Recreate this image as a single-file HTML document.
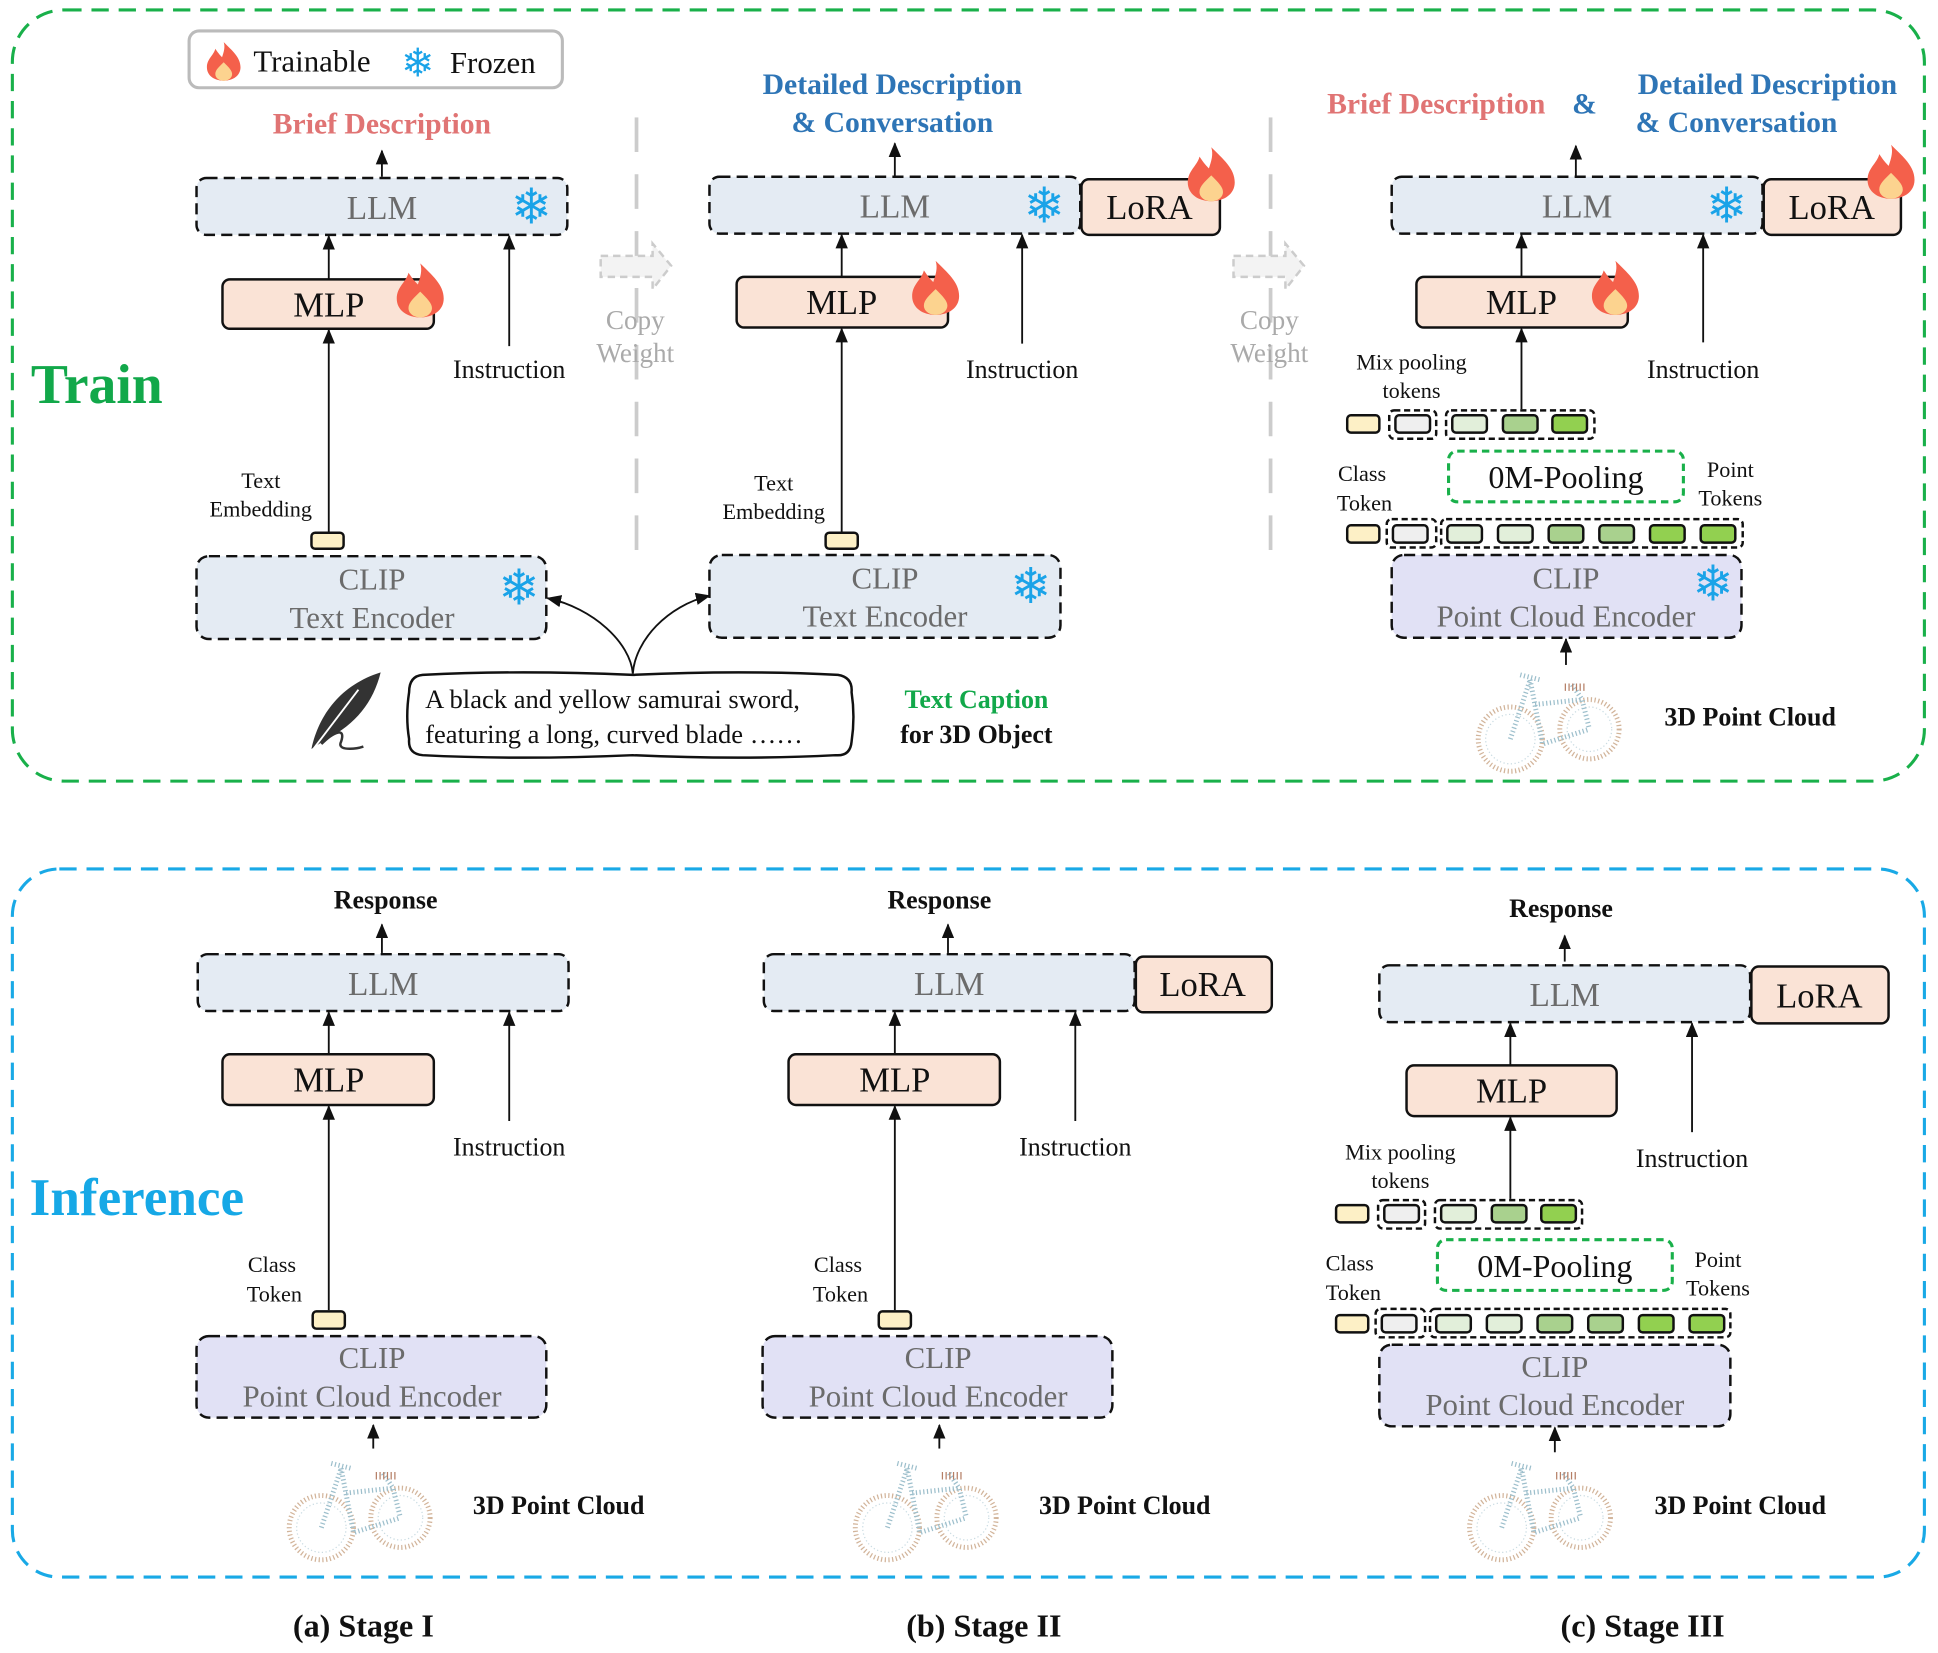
<!DOCTYPE html>
<html><head><meta charset="utf-8"><style>
html,body{margin:0;padding:0;background:#fff;}
svg{display:block;}
text{font-family:"Liberation Serif",serif;}
.g{fill:#6b6b6b;font-size:27px;text-anchor:middle;}
.b{font-size:21px;text-anchor:middle;fill:#111;}
.s{font-size:18px;text-anchor:middle;fill:#111;}
.bd{font-weight:bold;}
.sn{fill:#1aa3e8;font-size:40px;text-anchor:middle;font-family:"DejaVu Sans",sans-serif;}
.dash{stroke:#111;stroke-width:2;stroke-dasharray:9 5;}
.ln{stroke:#111;stroke-width:1.5;fill:none;}
</style></head><body>
<svg width="1938" height="1653" viewBox="0 0 1568 1337.4" xmlns="http://www.w3.org/2000/svg">
<defs>
<marker id="ah" markerWidth="12" markerHeight="10" refX="11" refY="5" orient="auto" markerUnits="userSpaceOnUse" viewBox="0 0 12 10"><path d="M0,0 L12,5 L0,10 z" fill="#111"/></marker>
<marker id="ah2" markerWidth="12" markerHeight="10" refX="11" refY="5" orient="auto" markerUnits="userSpaceOnUse" viewBox="0 0 12 10"><path d="M0,0 L12,5 L0,10 z" fill="#111"/></marker>
<g id="fire"><path d="M0,-22 C10,-12 20,-4 20,8 C20,18 11,24 0,24 C-11,24 -20,18 -20,8 C-20,-2 -12,-6 -10,-14 C-6,-8 -4,-6 -2,-4 C0,-10 2,-16 0,-22 z" fill="#f4604b"/><path d="M0,2 C6,8 10,12 10,16 C10,21 5,24 0,24 C-5,24 -10,21 -10,16 C-10,11 -5,7 0,2 z" fill="#fcd38f"/></g>
<g id="bike" fill="none" stroke-dasharray="1 2">
<circle cx="-30" cy="18" r="26" stroke="#d2b49a" stroke-width="4"/><circle cx="-30" cy="18" r="20" stroke="#c9dbe2" stroke-width="1"/>
<circle cx="34" cy="10" r="24" stroke="#d2b49a" stroke-width="4"/><circle cx="34" cy="10" r="18" stroke="#c9dbe2" stroke-width="1"/>
<path d="M-30,18 L-14,-30 M-14,-30 L-4,22 L34,10 M-10,-10 L28,-14 L34,10 M20,-26 L28,-14 M-22,-34 L-6,-30" stroke="#9dbfcc" stroke-width="4"/>
<path d="M14,-24 L30,-24" stroke="#b57f66" stroke-width="6"/>
</g>
</defs>

<rect x="10" y="8" width="1547" height="624" rx="42" fill="none" stroke="#19b04a" stroke-width="2.5" stroke-dasharray="14 8"/>
<rect x="10" y="703" width="1547" height="573" rx="38" fill="none" stroke="#19a9e6" stroke-width="2.5" stroke-dasharray="14 8"/>

<text x="25" y="326" font-size="45" font-weight="bold" fill="#12a84a">Train</text>
<text x="24" y="983" font-size="43" font-weight="bold" fill="#16a8e6">Inference</text>

<rect x="153" y="25" width="302" height="46" rx="8" fill="#fff" stroke="#bbb" stroke-width="2.5"/>
<use href="#fire" transform="translate(181,49) scale(0.68)"/>
<text x="205" y="58" font-size="25" fill="#111">Trainable</text>
<text x="338" y="62" class="sn" style="font-size:32px">❄</text>
<text x="364" y="59" font-size="25" fill="#111">Frozen</text>

<line x1="515" y1="95" x2="515" y2="455" stroke="#ccc" stroke-width="3" stroke-dasharray="28 18"/>
<line x1="1028" y1="95" x2="1028" y2="455" stroke="#ccc" stroke-width="3" stroke-dasharray="28 18"/>
<g stroke="#ccc" stroke-width="2" stroke-dasharray="6 4" fill="#f3f3f3">
<path d="M486,207 L528,207 L528,197 L543,215 L528,234 L528,224 L486,224 z"/>
<path d="M998,207 L1040,207 L1040,197 L1055,215 L1040,234 L1040,224 L998,224 z"/>
</g>
<g fill="#aaa" font-size="22" text-anchor="middle"><text x="514" y="266">Copy</text><text x="514" y="293">Weight</text><text x="1027" y="266">Copy</text><text x="1027" y="293">Weight</text></g>

<!-- TRAIN I -->
<text x="309" y="108" font-size="24" font-weight="bold" fill="#e07474" text-anchor="middle">Brief Description</text>
<line x1="309" y1="143" x2="309" y2="122" class="ln" marker-end="url(#ah)"/>
<rect x="159" y="144" width="300" height="46" rx="8" fill="#e4ebf3" class="dash"/>
<text x="309" y="177" class="g">LLM</text><text x="430" y="181" class="sn">❄</text>
<line x1="266" y1="226" x2="266" y2="191" class="ln" marker-end="url(#ah)"/>
<line x1="412" y1="280" x2="412" y2="191" class="ln" marker-end="url(#ah)"/>
<rect x="180" y="226" width="171" height="40" rx="6" fill="#fae3d6" stroke="#111" stroke-width="2"/>
<text x="266" y="256" font-size="28" fill="#111" text-anchor="middle">MLP</text>
<use href="#fire" transform="translate(340,234) scale(0.95)"/>
<text x="412" y="306" class="b">Instruction</text>
<line x1="266" y1="430" x2="266" y2="267" class="ln" marker-end="url(#ah)"/>
<text x="211" y="395" class="s">Text</text><text x="211" y="418" class="s">Embedding</text>
<rect x="252" y="431" width="26" height="13" rx="3" fill="#fdf0c6" stroke="#111" stroke-width="2"/>
<rect x="159" y="450" width="283" height="67" rx="10" fill="#e4ebf3" class="dash"/>
<text x="301" y="477" class="g" style="font-size:25px">CLIP</text><text x="301" y="508" class="g" style="font-size:25px">Text Encoder</text>
<text x="420" y="489" class="sn">❄</text>

<!-- TRAIN II -->
<g font-size="24" font-weight="bold" fill="#2e75b6" text-anchor="middle"><text x="722" y="76">Detailed Description</text><text x="722" y="107">&amp; Conversation</text></g>
<line x1="724" y1="143" x2="724" y2="116" class="ln" marker-end="url(#ah)"/>
<rect x="574" y="143" width="300" height="46" rx="8" fill="#e4ebf3" class="dash"/>
<text x="724" y="176" class="g">LLM</text><text x="845" y="180" class="sn">❄</text>
<rect x="875" y="145" width="112" height="45" rx="6" fill="#fae3d6" stroke="#111" stroke-width="2"/>
<text x="930" y="177" font-size="28" fill="#111" text-anchor="middle">LoRA</text>
<use href="#fire" transform="translate(980,140) scale(0.95)"/>
<line x1="681" y1="224" x2="681" y2="190" class="ln" marker-end="url(#ah)"/>
<line x1="827" y1="278" x2="827" y2="190" class="ln" marker-end="url(#ah)"/>
<rect x="596" y="224" width="171" height="41" rx="6" fill="#fae3d6" stroke="#111" stroke-width="2"/>
<text x="681" y="254" font-size="28" fill="#111" text-anchor="middle">MLP</text>
<use href="#fire" transform="translate(757,232) scale(0.95)"/>
<text x="827" y="306" class="b">Instruction</text>
<line x1="681" y1="430" x2="681" y2="266" class="ln" marker-end="url(#ah)"/>
<text x="626" y="397" class="s">Text</text><text x="626" y="420" class="s">Embedding</text>
<rect x="668" y="431" width="26" height="13" rx="3" fill="#fdf0c6" stroke="#111" stroke-width="2"/>
<rect x="574" y="449" width="284" height="67" rx="10" fill="#e4ebf3" class="dash"/>
<text x="716" y="476" class="g" style="font-size:25px">CLIP</text><text x="716" y="507" class="g" style="font-size:25px">Text Encoder</text>
<text x="834" y="488" class="sn">❄</text>

<path d="M512,545 C510,520 480,492 443,484" class="ln" marker-end="url(#ah2)"/>
<path d="M512,545 C514,518 540,490 574,482" class="ln" marker-end="url(#ah2)"/>
<path d="M342,546 Q420,542 512,546 Q600,542 678,546 Q690,548 689,560 Q692,580 689,600 Q688,612 676,611 Q600,615 512,611 Q420,615 342,611 Q330,610 331,598 Q328,580 331,560 Q331,547 342,546 z" fill="#fff" stroke="#111" stroke-width="2"/>
<text x="344" y="573" font-size="21.5" fill="#111">A black and yellow samurai sword,</text>
<text x="344" y="601" font-size="21.5" fill="#111">featuring a long, curved blade ……</text>
<text x="790" y="573" font-size="21" font-weight="bold" fill="#12a84a" text-anchor="middle">Text  Caption</text>
<text x="790" y="601" font-size="21" font-weight="bold" fill="#111" text-anchor="middle">for 3D Object</text>
<g transform="translate(280,578)"><path d="M-28,28 C-22,0 -4,-24 28,-34 C22,-10 8,8 -16,20 z" fill="#333"/><path d="M-28,30 L10,-20" stroke="#fff" stroke-width="1.5"/><path d="M-20,24 C-10,14 0,10 -4,22 C-8,30 8,28 14,26" stroke="#333" stroke-width="2" fill="none"/></g>

<!-- TRAIN III -->
<text x="1162" y="92" font-size="24" font-weight="bold" fill="#e07474" text-anchor="middle">Brief Description</text>
<text x="1282" y="92" font-size="24" font-weight="bold" fill="#2e75b6" text-anchor="middle">&amp;</text>
<g font-size="24" font-weight="bold" fill="#2e75b6" text-anchor="middle"><text x="1430" y="76">Detailed Description</text><text x="1405" y="107">&amp; Conversation</text></g>
<line x1="1275" y1="143" x2="1275" y2="118" class="ln" marker-end="url(#ah)"/>
<rect x="1126" y="143" width="300" height="46" rx="8" fill="#e4ebf3" class="dash"/>
<text x="1276" y="176" class="g">LLM</text><text x="1397" y="180" class="sn">❄</text>
<rect x="1427" y="145" width="111" height="45" rx="6" fill="#fae3d6" stroke="#111" stroke-width="2"/>
<text x="1482" y="177" font-size="28" fill="#111" text-anchor="middle">LoRA</text>
<use href="#fire" transform="translate(1530,138) scale(0.95)"/>
<line x1="1231" y1="224" x2="1231" y2="190" class="ln" marker-end="url(#ah)"/>
<line x1="1378" y1="277" x2="1378" y2="190" class="ln" marker-end="url(#ah)"/>
<rect x="1146" y="224" width="171" height="41" rx="6" fill="#fae3d6" stroke="#111" stroke-width="2"/>
<text x="1231" y="254" font-size="28" fill="#111" text-anchor="middle">MLP</text>
<use href="#fire" transform="translate(1307,232) scale(0.95)"/>
<text x="1378" y="306" class="b">Instruction</text>
<line x1="1231" y1="331" x2="1231" y2="266" class="ln" marker-end="url(#ah)"/>
<text x="1142" y="299" class="s">Mix pooling</text><text x="1142" y="322" class="s">tokens</text>
<rect x="1090" y="336" width="26" height="14" rx="3" fill="#fdf0c6" stroke="#111" stroke-width="2"/>
<rect x="1124" y="332" width="38" height="23" rx="4" fill="none" class="dash" style="stroke-dasharray:5 3"/>
<rect x="1129" y="336" width="28" height="14" rx="3" fill="#efefef" stroke="#111" stroke-width="2"/>
<rect x="1170" y="332" width="120" height="23" rx="4" fill="none" class="dash" style="stroke-dasharray:5 3"/>
<rect x="1175" y="336" width="28" height="14" rx="3" fill="#e2efda" stroke="#111" stroke-width="2"/>
<rect x="1216" y="336" width="28" height="14" rx="3" fill="#a9d18e" stroke="#111" stroke-width="2"/>
<rect x="1256" y="336" width="28" height="14" rx="3" fill="#92d050" stroke="#111" stroke-width="2"/>
<rect x="1172" y="365" width="190" height="41" rx="7" fill="none" stroke="#19b04a" stroke-width="2.5" stroke-dasharray="6 4"/>
<text x="1267" y="395" font-size="26" fill="#111" text-anchor="middle">0M-Pooling</text>
<text x="1102" y="389" class="s">Class</text><text x="1104" y="413" class="s">Token</text>
<text x="1400" y="386" class="s">Point</text><text x="1400" y="409" class="s">Tokens</text>
<rect x="1090" y="425" width="26" height="14" rx="3" fill="#fdf0c6" stroke="#111" stroke-width="2"/>
<rect x="1122" y="420" width="40" height="23" rx="4" fill="none" class="dash" style="stroke-dasharray:5 3"/>
<rect x="1127" y="425" width="28" height="14" rx="3" fill="#efefef" stroke="#111" stroke-width="2"/>
<rect x="1166" y="420" width="244" height="23" rx="4" fill="none" class="dash" style="stroke-dasharray:5 3"/>
<rect x="1171" y="425" width="28" height="14" rx="3" fill="#e2efda" stroke="#111" stroke-width="2"/>
<rect x="1212" y="425" width="28" height="14" rx="3" fill="#e2efda" stroke="#111" stroke-width="2"/>
<rect x="1253" y="425" width="28" height="14" rx="3" fill="#a9d18e" stroke="#111" stroke-width="2"/>
<rect x="1294" y="425" width="28" height="14" rx="3" fill="#a9d18e" stroke="#111" stroke-width="2"/>
<rect x="1335" y="425" width="28" height="14" rx="3" fill="#92d050" stroke="#111" stroke-width="2"/>
<rect x="1376" y="425" width="28" height="14" rx="3" fill="#92d050" stroke="#111" stroke-width="2"/>
<rect x="1126" y="449" width="283" height="67" rx="10" fill="#e1e1f5" class="dash"/>
<text x="1267" y="476" class="g" style="font-size:25px">CLIP</text><text x="1267" y="507" class="g" style="font-size:25px">Point Cloud Encoder</text>
<text x="1386" y="486" class="sn">❄</text>
<line x1="1267" y1="538" x2="1267" y2="517" class="ln" marker-end="url(#ah)"/>
<use href="#bike" transform="translate(1252,580)"/>
<text x="1416" y="587" class="b bd">3D Point Cloud</text>

<!-- INF I -->
<text x="312" y="735" class="b bd">Response</text>
<line x1="309" y1="771" x2="309" y2="748" class="ln" marker-end="url(#ah)"/>
<rect x="160" y="772" width="300" height="46" rx="8" fill="#e4ebf3" class="dash"/>
<text x="310" y="805" class="g">LLM</text>
<line x1="266" y1="853" x2="266" y2="819" class="ln" marker-end="url(#ah)"/>
<line x1="412" y1="907" x2="412" y2="819" class="ln" marker-end="url(#ah)"/>
<rect x="180" y="853" width="171" height="41" rx="6" fill="#fae3d6" stroke="#111" stroke-width="2"/>
<text x="266" y="883" font-size="28" fill="#111" text-anchor="middle">MLP</text>
<text x="412" y="935" class="b">Instruction</text>
<line x1="266" y1="1060" x2="266" y2="895" class="ln" marker-end="url(#ah)"/>
<text x="220" y="1029" class="s">Class</text><text x="222" y="1053" class="s">Token</text>
<rect x="253" y="1061" width="26" height="14" rx="3" fill="#fdf0c6" stroke="#111" stroke-width="2"/>
<rect x="159" y="1081" width="283" height="66" rx="10" fill="#e1e1f5" class="dash"/>
<text x="301" y="1107" class="g" style="font-size:25px">CLIP</text><text x="301" y="1138" class="g" style="font-size:25px">Point Cloud Encoder</text>
<line x1="302" y1="1172" x2="302" y2="1153" class="ln" marker-end="url(#ah)"/>
<use href="#bike" transform="translate(290,1218)"/>
<text x="452" y="1225" class="b bd">3D Point Cloud</text>

<!-- INF II -->
<text x="760" y="735" class="b bd">Response</text>
<line x1="767" y1="771" x2="767" y2="748" class="ln" marker-end="url(#ah)"/>
<rect x="618" y="772" width="300" height="46" rx="8" fill="#e4ebf3" class="dash"/>
<text x="768" y="805" class="g">LLM</text>
<rect x="919" y="774" width="110" height="45" rx="6" fill="#fae3d6" stroke="#111" stroke-width="2"/>
<text x="973" y="806" font-size="28" fill="#111" text-anchor="middle">LoRA</text>
<line x1="724" y1="853" x2="724" y2="819" class="ln" marker-end="url(#ah)"/>
<line x1="870" y1="907" x2="870" y2="819" class="ln" marker-end="url(#ah)"/>
<rect x="638" y="853" width="171" height="41" rx="6" fill="#fae3d6" stroke="#111" stroke-width="2"/>
<text x="724" y="883" font-size="28" fill="#111" text-anchor="middle">MLP</text>
<text x="870" y="935" class="b">Instruction</text>
<line x1="724" y1="1060" x2="724" y2="895" class="ln" marker-end="url(#ah)"/>
<text x="678" y="1029" class="s">Class</text><text x="680" y="1053" class="s">Token</text>
<rect x="711" y="1061" width="26" height="14" rx="3" fill="#fdf0c6" stroke="#111" stroke-width="2"/>
<rect x="617" y="1081" width="283" height="66" rx="10" fill="#e1e1f5" class="dash"/>
<text x="759" y="1107" class="g" style="font-size:25px">CLIP</text><text x="759" y="1138" class="g" style="font-size:25px">Point Cloud Encoder</text>
<line x1="760" y1="1172" x2="760" y2="1153" class="ln" marker-end="url(#ah)"/>
<use href="#bike" transform="translate(748,1218)"/>
<text x="910" y="1225" class="b bd">3D Point Cloud</text>

<!-- INF III -->
<text x="1263" y="742" class="b bd">Response</text>
<line x1="1266" y1="778" x2="1266" y2="757" class="ln" marker-end="url(#ah)"/>
<rect x="1116" y="781" width="300" height="46" rx="8" fill="#e4ebf3" class="dash"/>
<text x="1266" y="814" class="g">LLM</text>
<rect x="1417" y="782" width="111" height="46" rx="6" fill="#fae3d6" stroke="#111" stroke-width="2"/>
<text x="1472" y="815" font-size="28" fill="#111" text-anchor="middle">LoRA</text>
<line x1="1222" y1="862" x2="1222" y2="828" class="ln" marker-end="url(#ah)"/>
<line x1="1369" y1="916" x2="1369" y2="828" class="ln" marker-end="url(#ah)"/>
<rect x="1138" y="862" width="170" height="41" rx="6" fill="#fae3d6" stroke="#111" stroke-width="2"/>
<text x="1223" y="892" font-size="28" fill="#111" text-anchor="middle">MLP</text>
<text x="1369" y="944" class="b">Instruction</text>
<line x1="1222" y1="970" x2="1222" y2="904" class="ln" marker-end="url(#ah)"/>
<text x="1133" y="938" class="s">Mix pooling</text><text x="1133" y="961" class="s">tokens</text>
<rect x="1081" y="975" width="26" height="14" rx="3" fill="#fdf0c6" stroke="#111" stroke-width="2"/>
<rect x="1115" y="971" width="38" height="23" rx="4" fill="none" class="dash" style="stroke-dasharray:5 3"/>
<rect x="1120" y="975" width="28" height="14" rx="3" fill="#efefef" stroke="#111" stroke-width="2"/>
<rect x="1161" y="971" width="119" height="23" rx="4" fill="none" class="dash" style="stroke-dasharray:5 3"/>
<rect x="1166" y="975" width="28" height="14" rx="3" fill="#e2efda" stroke="#111" stroke-width="2"/>
<rect x="1207" y="975" width="28" height="14" rx="3" fill="#a9d18e" stroke="#111" stroke-width="2"/>
<rect x="1247" y="975" width="28" height="14" rx="3" fill="#92d050" stroke="#111" stroke-width="2"/>
<rect x="1163" y="1003" width="190" height="41" rx="7" fill="none" stroke="#19b04a" stroke-width="2.5" stroke-dasharray="6 4"/>
<text x="1258" y="1033" font-size="26" fill="#111" text-anchor="middle">0M-Pooling</text>
<text x="1092" y="1028" class="s">Class</text><text x="1095" y="1052" class="s">Token</text>
<text x="1390" y="1025" class="s">Point</text><text x="1390" y="1048" class="s">Tokens</text>
<rect x="1081" y="1064" width="26" height="14" rx="3" fill="#fdf0c6" stroke="#111" stroke-width="2"/>
<rect x="1113" y="1059" width="40" height="23" rx="4" fill="none" class="dash" style="stroke-dasharray:5 3"/>
<rect x="1118" y="1064" width="28" height="14" rx="3" fill="#efefef" stroke="#111" stroke-width="2"/>
<rect x="1157" y="1059" width="243" height="23" rx="4" fill="none" class="dash" style="stroke-dasharray:5 3"/>
<rect x="1162" y="1064" width="28" height="14" rx="3" fill="#e2efda" stroke="#111" stroke-width="2"/>
<rect x="1203" y="1064" width="28" height="14" rx="3" fill="#e2efda" stroke="#111" stroke-width="2"/>
<rect x="1244" y="1064" width="28" height="14" rx="3" fill="#a9d18e" stroke="#111" stroke-width="2"/>
<rect x="1285" y="1064" width="28" height="14" rx="3" fill="#a9d18e" stroke="#111" stroke-width="2"/>
<rect x="1326" y="1064" width="28" height="14" rx="3" fill="#92d050" stroke="#111" stroke-width="2"/>
<rect x="1367" y="1064" width="28" height="14" rx="3" fill="#92d050" stroke="#111" stroke-width="2"/>
<rect x="1116" y="1088" width="284" height="66" rx="10" fill="#e1e1f5" class="dash"/>
<text x="1258" y="1114" class="g" style="font-size:25px">CLIP</text><text x="1258" y="1145" class="g" style="font-size:25px">Point Cloud Encoder</text>
<line x1="1258" y1="1175" x2="1258" y2="1155" class="ln" marker-end="url(#ah)"/>
<use href="#bike" transform="translate(1245,1218)"/>
<text x="1408" y="1225" class="b bd">3D Point Cloud</text>

<g font-size="26" font-weight="bold" fill="#111" text-anchor="middle">
<text x="294" y="1324">(a) Stage I</text><text x="796" y="1324">(b) Stage II</text><text x="1329" y="1324">(c) Stage III</text>
</g>
</svg>
</body></html>
